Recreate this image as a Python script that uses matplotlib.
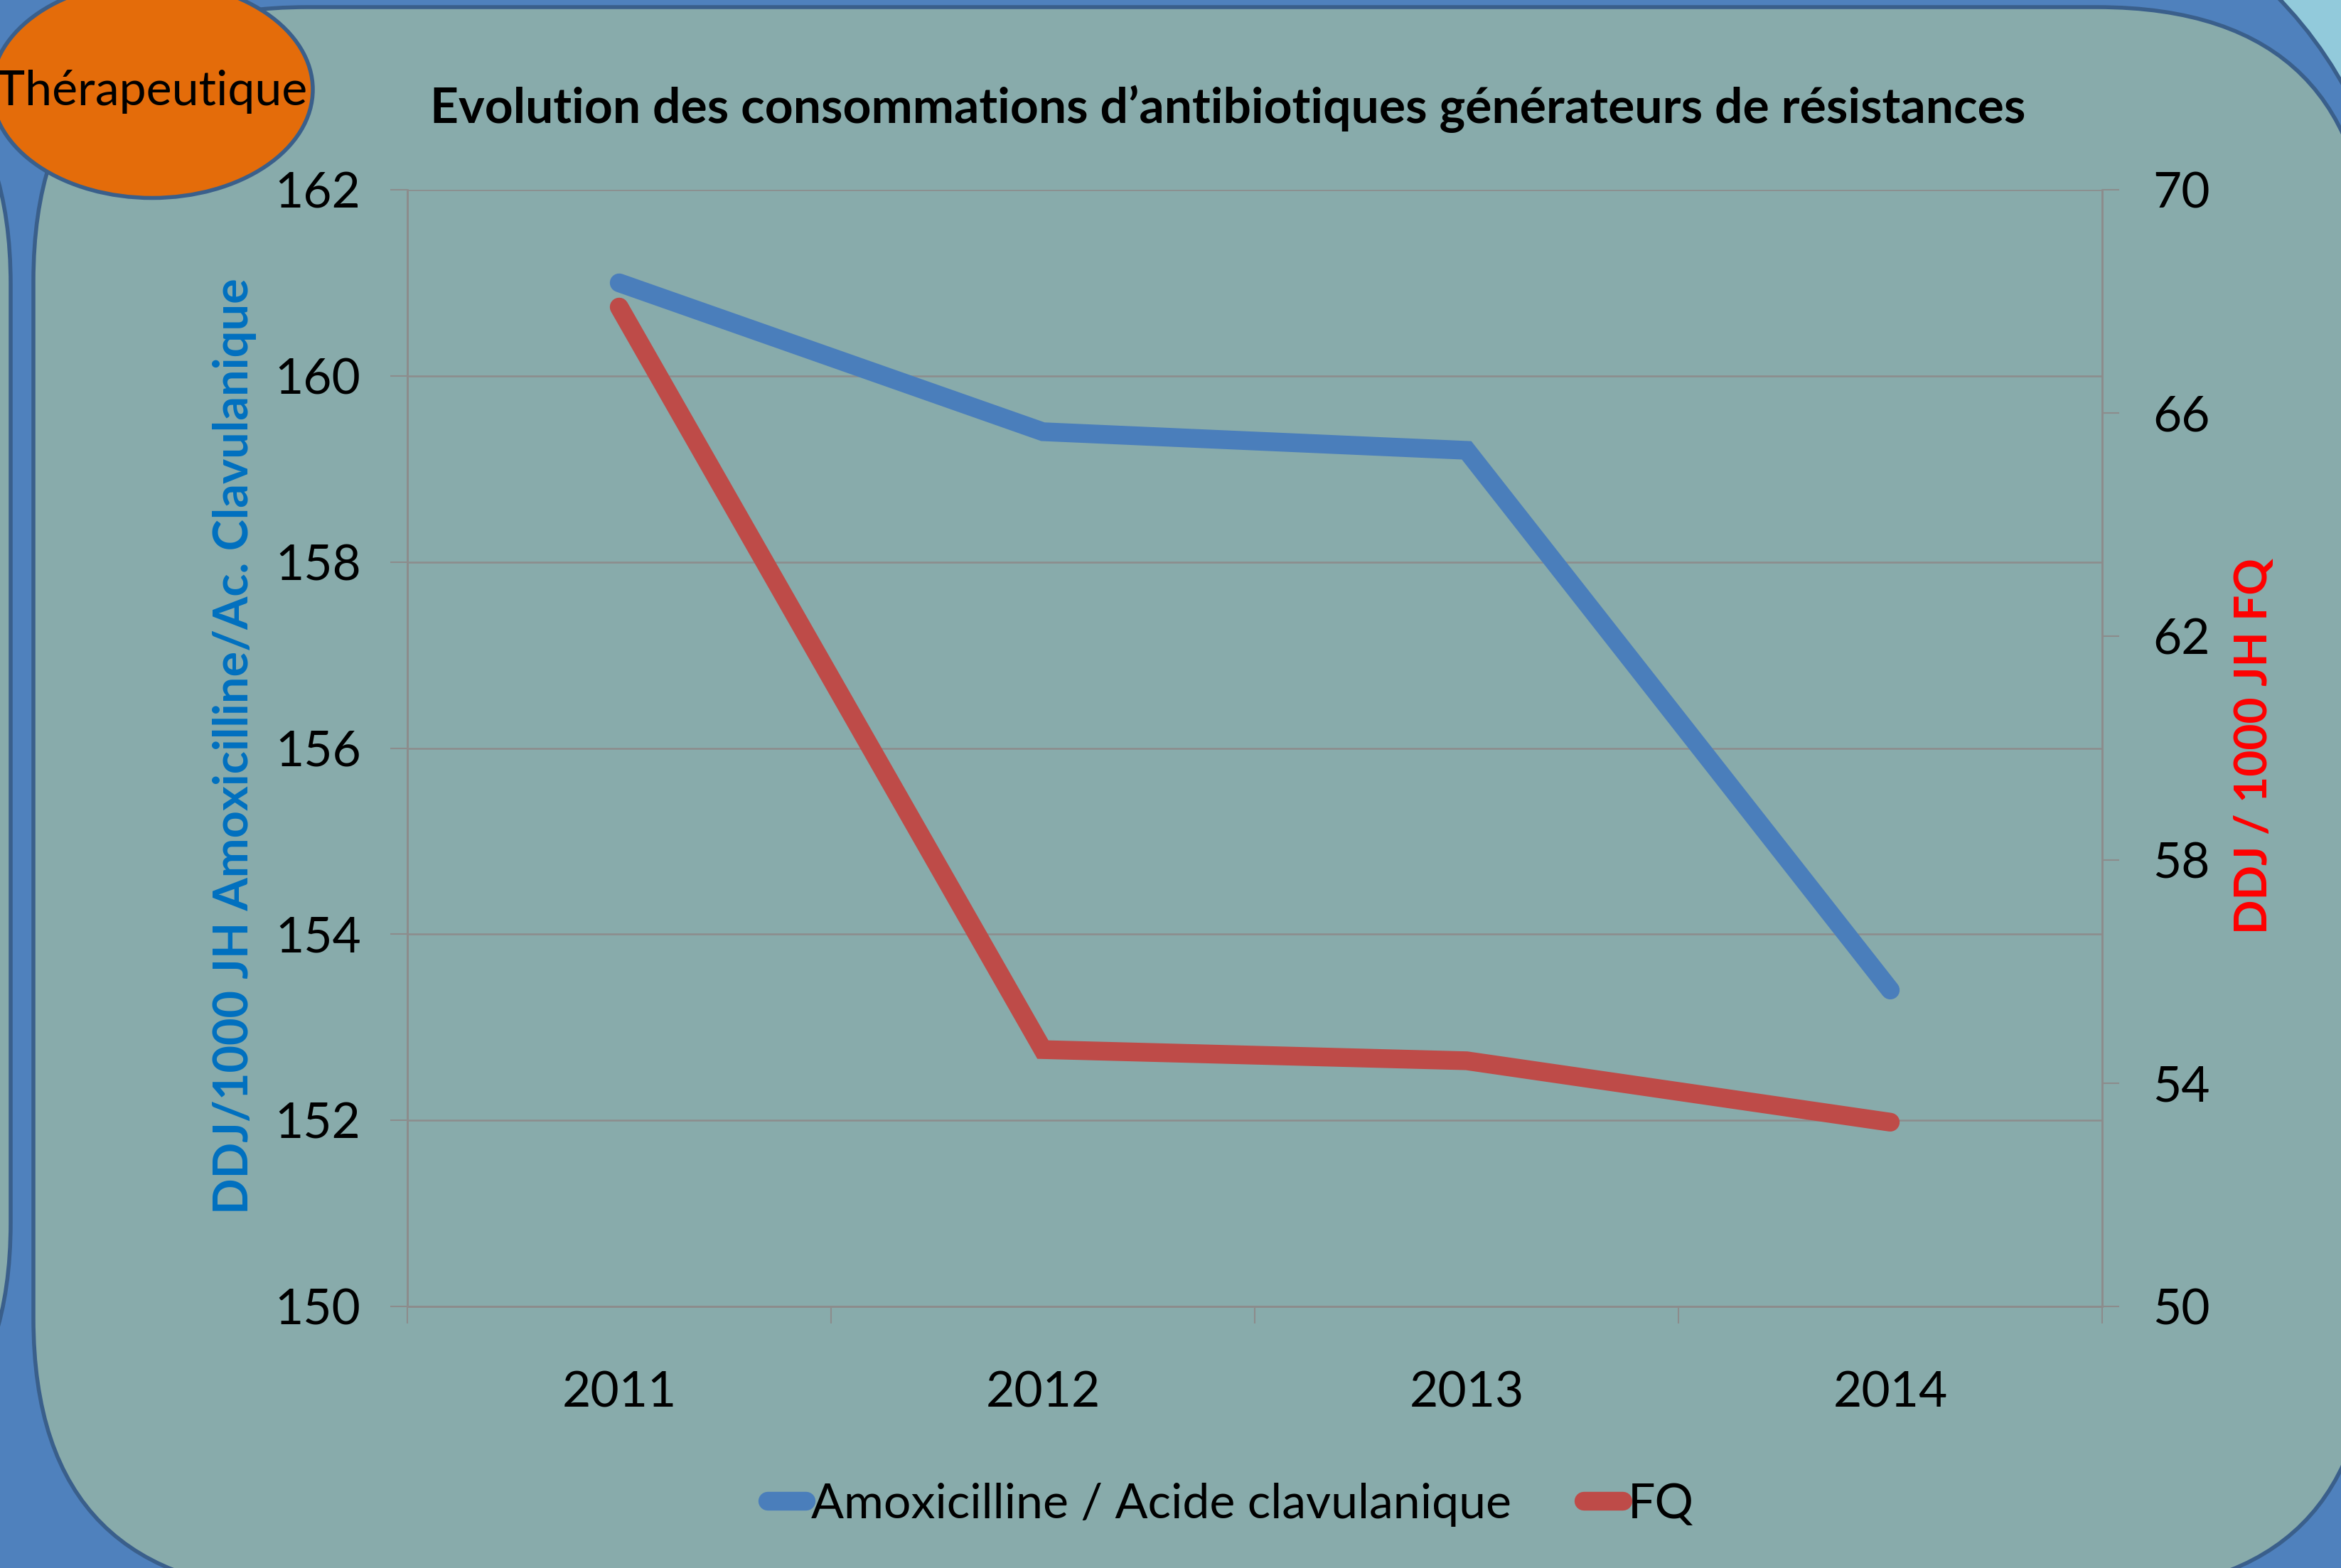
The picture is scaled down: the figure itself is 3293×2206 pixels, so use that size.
import matplotlib

matplotlib.use("Agg")
import matplotlib.pyplot as plt
from matplotlib.patches import Ellipse, FancyBboxPatch, Rectangle, Circle
from matplotlib.transforms import IdentityTransform

years = ["2011", "2012", "2013", "2014"]
amox = [161.0, 159.4, 159.2, 153.4]
fq = [67.9, 54.6, 54.4, 53.3]
left_ticks = [150, 152, 154, 156, 158, 160, 162]
right_ticks = [50, 54, 58, 62, 66, 70]

W, H = 3293, 2206
DPI = 100
FONT = "Lato"

plt.rcParams["font.family"] = [FONT, "DejaVu Sans"]

BG_BLUE = "#4F81BD"
EDGE = "#3A5F8B"
PANEL = "#88ABAB"
GRID = "#8C8C8C"


def rect_px(x0, y0, x1, y1):
    # top-down pixel box -> display coords (bottom-up)
    return x0, H - y1, x1 - x0, y1 - y0


fig = plt.figure(figsize=(W / DPI, H / DPI), dpi=DPI, facecolor=BG_BLUE)
ident = IdentityTransform()

# light blue wedge top right
x, y, w, h = rect_px(3050, -50, 3400, 400)
wedge = Rectangle((x, y), w, h, transform=ident, facecolor="#92CADB", edgecolor="none", zorder=0)
fig.patches.append(wedge)
band = Circle((2790, H - 401), 579, transform=ident, facecolor=BG_BLUE, edgecolor=EDGE, lw=4, zorder=0.1)
band.set_clip_path(wedge)
fig.patches.append(band)

# neighbouring panel on the far left
x, y, w, h = rect_px(-1200, 20, 15, 2100)
fig.patches.append(FancyBboxPatch((x, y), w, h, boxstyle="round,pad=0,rounding_size=380", transform=ident,
                                  facecolor=PANEL, edgecolor=EDGE, lw=4, zorder=0.2))

# main panel
x, y, w, h = rect_px(47, 10, 3335, 2240)
fig.patches.append(FancyBboxPatch((x, y), w, h, boxstyle="round,pad=0,rounding_size=385", transform=ident,
                                  facecolor=PANEL, edgecolor=EDGE, lw=4, zorder=0.3))

ax = fig.add_axes([573 / W, 1 - 1838 / H, (2957 - 573) / W, (1838 - 267) / H])
ax.set_facecolor("none")
ax.set_zorder(2)
ax2 = ax.twinx()
ax2.set_zorder(3)

xs = list(range(len(years)))
ax.plot(xs, amox, color="#4A7EBB", lw=19, solid_capstyle="round", solid_joinstyle="miter",
        label="Amoxicilline / Acide clavulanique", zorder=3)
ax2.plot(xs, fq, color="#BE4B48", lw=19, solid_capstyle="round", solid_joinstyle="miter",
         label="FQ", zorder=3)

ax.set_xlim(-0.5, len(years) - 0.5)
ax.set_ylim(150, 162)
ax2.set_ylim(50, 70)
ax.set_yticks(left_ticks)
ax2.set_yticks(right_ticks)
ax.set_xticks(xs)
ax.set_xticklabels(years)
ax.set_xticks([i - 0.5 for i in range(len(years) + 1)], minor=True)

ax.grid(True, axis="y", color=GRID, lw=1.8)
ax.set_axisbelow(True)

for a in (ax, ax2):
    a.spines["top"].set_visible(False)
    for side in ("left", "right", "bottom"):
        a.spines[side].set_color(GRID)
        a.spines[side].set_linewidth(1.8)

ax.tick_params(axis="x", which="major", length=0, pad=65, labelsize=50)
ax.tick_params(axis="x", which="minor", length=17, width=1.5, color=GRID, direction="out")
ax.tick_params(axis="y", length=17, width=1.5, color=GRID, pad=30, labelsize=50)
ax2.tick_params(axis="y", length=17, width=1.5, color=GRID, pad=34, labelsize=50)

fig.text(1727 / W, 1 - 153 / H, "Evolution des consommations d\u2019antibiotiques g\u00e9n\u00e9rateurs de r\u00e9sistances",
         ha="center", va="center", fontsize=50, fontweight="bold", color="black")
fig.text(330 / W, 1 - 1050 / H, "DDJ/1000 JH Amoxicilline/Ac. Clavulanique", rotation=90,
         ha="center", va="center", fontsize=48, fontweight="bold", color="#0070C0")
fig.text(3170 / W, 1 - 1050 / H, "DDJ / 1000 JH FQ", rotation=90,
         ha="center", va="center", fontsize=46, fontweight="bold", color="#FF0000")

h1, l1 = ax.get_legend_handles_labels()
h2, l2 = ax2.get_legend_handles_labels()
leg = fig.legend(h1 + h2, l1 + l2, loc="center", bbox_to_anchor=(1731 / W, 1 - 2117 / H), ncol=2,
                 frameon=False, fontsize=49, handlelength=0.8, handletextpad=0.1, columnspacing=1.5)
for line in leg.get_lines():
    line.set_linewidth(19)
    line.set_solid_capstyle("round")

# orange badge
ell = Ellipse((214, H - 126), 452, 305, transform=ident, facecolor="#E46C0A", edgecolor=EDGE, lw=4, zorder=5)
fig.patches.append(ell)
fig.text(214 / W, 1 - 129 / H, "Th\u00e9rapeutique", ha="center", va="center", fontsize=49, color="black", zorder=6)

fig.savefig("out.png", dpi=DPI, facecolor=BG_BLUE)
